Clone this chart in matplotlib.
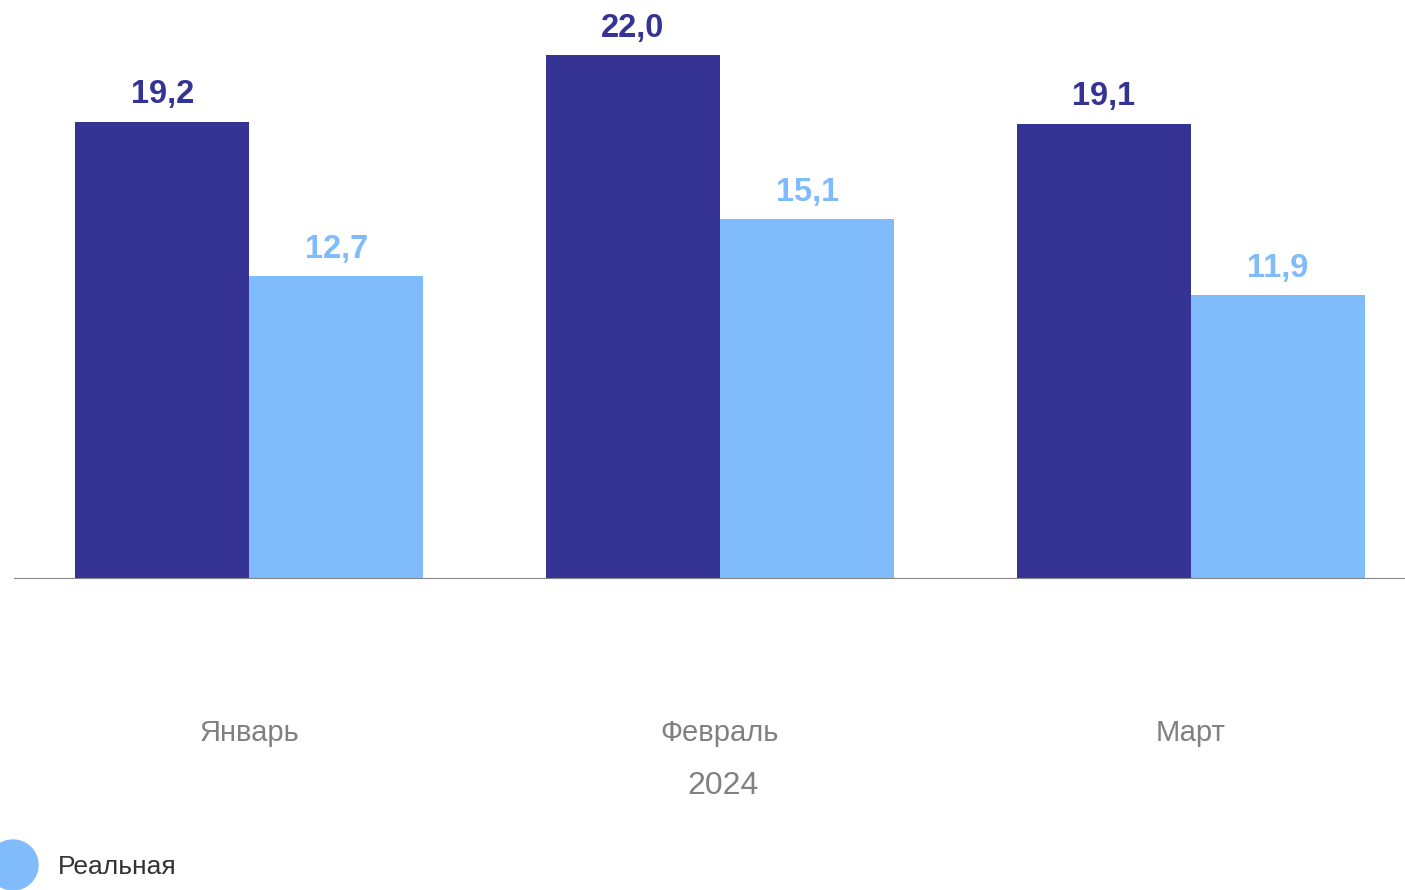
import matplotlib
matplotlib.use("Agg")
import matplotlib.pyplot as plt
from matplotlib.patches import Ellipse
import numpy as np

months = ["Январь", "Февраль", "Март"]
year_label = "2024"
nominal = [19.2, 22.0, 19.1]
real = [12.7, 15.1, 11.9]
legend_label = "Реальная"

dark = "#353394"
light = "#80bbfc"

plt.rcParams['font.family'] = ['Liberation Sans', 'DejaVu Sans']

fig = plt.figure(figsize=(14.05, 8.9), dpi=100)
W, H = 1405, 890
ax = fig.add_axes([14 / W, (H - 578) / H, 1412 / W, 578 / H])

x = np.arange(len(months))
w = 0.37
b1 = ax.bar(x - w / 2, nominal, w, color=dark)
b2 = ax.bar(x + w / 2, real, w, color=light)

for bars, vals, col in ((b1, nominal, dark), (b2, real, light)):
	for r, v in zip(bars, vals):
		ax.annotate(f"{v:.1f}".replace(".", ","), xy=(r.get_x() + r.get_width() / 2, v),
			xytext=(0, 8.3), textcoords='offset points', ha='center', va='bottom',
			fontsize=23.5, fontweight='bold', color=col)

ax.set_xlim(-0.5, 2.5)
ax.set_ylim(0, 578 / 23.77)
ax.set_xticks(x, months, fontsize=21, color="#808080")
ax.tick_params(axis='x', length=0, pad=101.5)
ax.set_yticks([])
for s in ("top", "right", "left"):
	ax.spines[s].set_visible(False)
ax.spines["bottom"].set_color("#888888")
ax.set_xlabel(year_label, fontsize=23, color="#808080", labelpad=17.5, x=0.502)

fig.add_artist(Ellipse((13 / W, (H - 865) / H), 50 / W, 50 / H,
	transform=fig.transFigure, color=light, clip_on=False))
fig.text(58 / W, (H - 867.5) / H, legend_label, fontsize=19, color="#333333", va='center')

fig.savefig("out.png", dpi=100)
